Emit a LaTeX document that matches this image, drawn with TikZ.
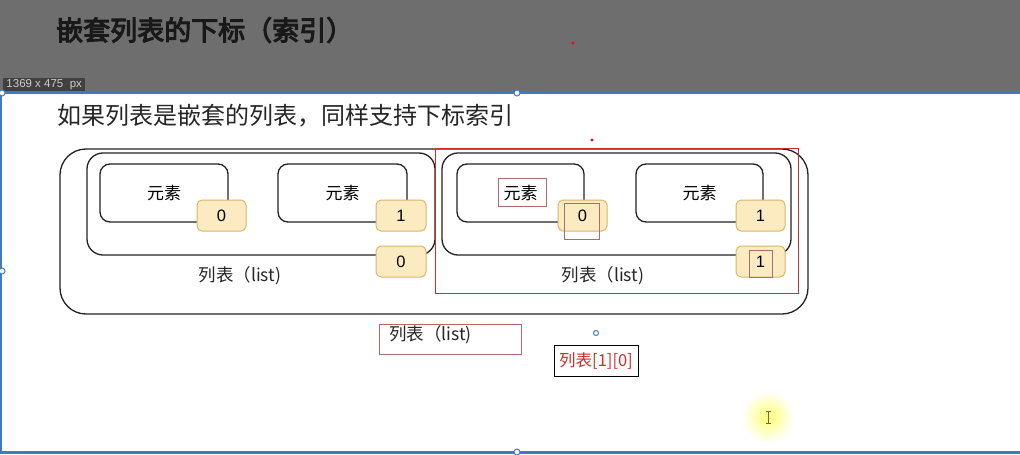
\documentclass[tikz,border=0pt]{standalone}
\usepackage{fontspec}
\newfontfamily\cjk{Noto Sans CJK SC}
\newfontfamily\cjkbold[FakeBold=4]{Noto Sans CJK SC}
\newfontfamily\latsans{Liberation Sans}
\definecolor{hdrgray}{HTML}{6E6E6E}
\definecolor{selblue}{HTML}{3F7BC4}
\definecolor{idxfill}{HTML}{FCEBC0}
\definecolor{idxdraw}{HTML}{D8B868}
\definecolor{annred}{HTML}{C8302C}
\definecolor{annbrown}{HTML}{B06A6A}
\definecolor{linec}{HTML}{222222}
\tikzset{
  box/.style={draw=linec, line width=1.3pt, inner sep=0pt},
  elembox/.style={box, rounded corners=10pt, font=\cjk\fontsize{17}{20}\selectfont},
  listbox/.style={box, rounded corners=16pt},
  outerbox/.style={box, rounded corners=26pt},
  idxbox/.style={draw=idxdraw, fill=idxfill, line width=1pt, rounded corners=5pt, inner sep=0pt,
     minimum height=31pt, font=\latsans\fontsize{16.5}{19}\selectfont},
  lbl/.style={inner sep=0pt, font=\cjk\fontsize{17.5}{20}\selectfont, text=black!85},
  annbig/.style={draw=annred, line width=0.75pt, inner sep=0pt},
  annsmall/.style={draw=annbrown, line width=0.8pt, inner sep=0pt},
  handle/.style={draw=selblue, fill=white, line width=1pt, circle, inner sep=0pt, minimum size=6pt},
}
\begin{document}
\begin{tikzpicture}[x=1pt,y=-1pt]
\useasboundingbox (0,0) rectangle (1020,455);
\fill[white] (0,0) rectangle (1020,455);
% header
\fill[hdrgray] (0,0) rectangle (1020,93);
\node[anchor=west, inner sep=0pt, text=black!90, font=\cjkbold\fontsize{27}{31}\selectfont] (title) at (56,30) {嵌套列表的下标（索引）};
\node[fill=black!75, anchor=north west, inner sep=0pt, minimum width=82pt, minimum height=13pt,
  font=\latsans\fontsize{11.5}{12}\selectfont, text=white!80!black] (dim) at (3,78) {1369 x 475\ \ px};
\fill[red] (573,43) circle (1.6);
% selection frame
\draw[selblue, line width=2pt] (0,93) -- (1020,93);
\draw[selblue, line width=2pt] (1,93) -- (1,452);
\draw[selblue, line width=2.5pt] (0,452.5) -- (1020,452.5);
\node[handle] (h1) at (2,93) {};
\node[handle] (h2) at (517,93) {};
\node[handle] (h3) at (2,271) {};
\node[handle] (h4) at (517,452) {};
% subtitle
\node[anchor=west, inner sep=0pt, text=black!85, font=\cjk\fontsize{24}{28}\selectfont] (sub) at (57,116) {如果列表是嵌套的列表，同样支持下标索引};
\fill[red] (592,140) circle (1.6);
% outer list
\node[outerbox, minimum width=748pt, minimum height=165pt] (outer) at (434,231.5) {};
% left inner list
\node[listbox, minimum width=348pt, minimum height=102pt] (listL) at (261,204) {};
\node[elembox, minimum width=128pt, minimum height=58pt] (eL1) at (164,193) {元素};
\node[elembox, minimum width=129pt, minimum height=58pt] (eL2) at (342.5,193) {元素};
\node[idxbox, minimum width=49pt] (iL1) at (221.5,215.5) {0};
\node[idxbox, minimum width=50pt] (iL2) at (401,215.5) {1};
\node[idxbox, minimum width=50pt] (iLl) at (401,261.5) {0};
\node[lbl] (tL) at (240,276) {列表（list)};
% right inner list
\node[listbox, minimum width=349pt, minimum height=102pt] (listR) at (616.5,204) {};
\node[elembox, minimum width=127pt, minimum height=58pt] (eR1) at (520.5,193) {元素};
\node[elembox, minimum width=127pt, minimum height=58pt] (eR2) at (699.5,193) {元素};
\node[idxbox, minimum width=49pt] (iR1) at (582.5,215.5) {0};
\node[idxbox, minimum width=49pt] (iR2) at (760.5,215.5) {1};
\node[idxbox, minimum width=49pt] (iRl) at (760.5,261.5) {1};
\node[lbl] (tR) at (603,276) {列表（list)};
% annotations
\node[annbig, minimum width=363pt, minimum height=145pt] (redBig) at (616.5,220.5) {};
\node[annsmall, minimum width=48pt, minimum height=28pt] (redE) at (522,192) {};
\node[annsmall, minimum width=35pt, minimum height=36pt] (redI) at (581.5,221) {};
\node[annsmall, minimum width=23pt, minimum height=27pt] (redL) at (760.5,263.5) {};
% bottom labels
\node[annsmall, minimum width=142pt, minimum height=30pt] (redOut) at (450,339) {};
\node[lbl, anchor=west] (tOut) at (389,335) {列表（list)};
\node[draw=black, line width=1pt, minimum width=84pt, minimum height=31pt, inner sep=0pt,
  text=annred, font=\cjk\fontsize{16.5}{19}\selectfont] (res) at (596,360.5) {列表[1][0]};
\node[draw=selblue, circle, line width=1pt, inner sep=0pt, minimum size=5pt] (dot) at (596,333) {};
% cursor highlight
\shade[inner color=yellow!55, outer color=white] (768,417) circle (26);
\draw[black!60, line width=0.8pt] (768,411) -- (768,423) (765.5,411) -- (770.5,411) (765.5,423) -- (770.5,423);
\end{tikzpicture}
\end{document}
